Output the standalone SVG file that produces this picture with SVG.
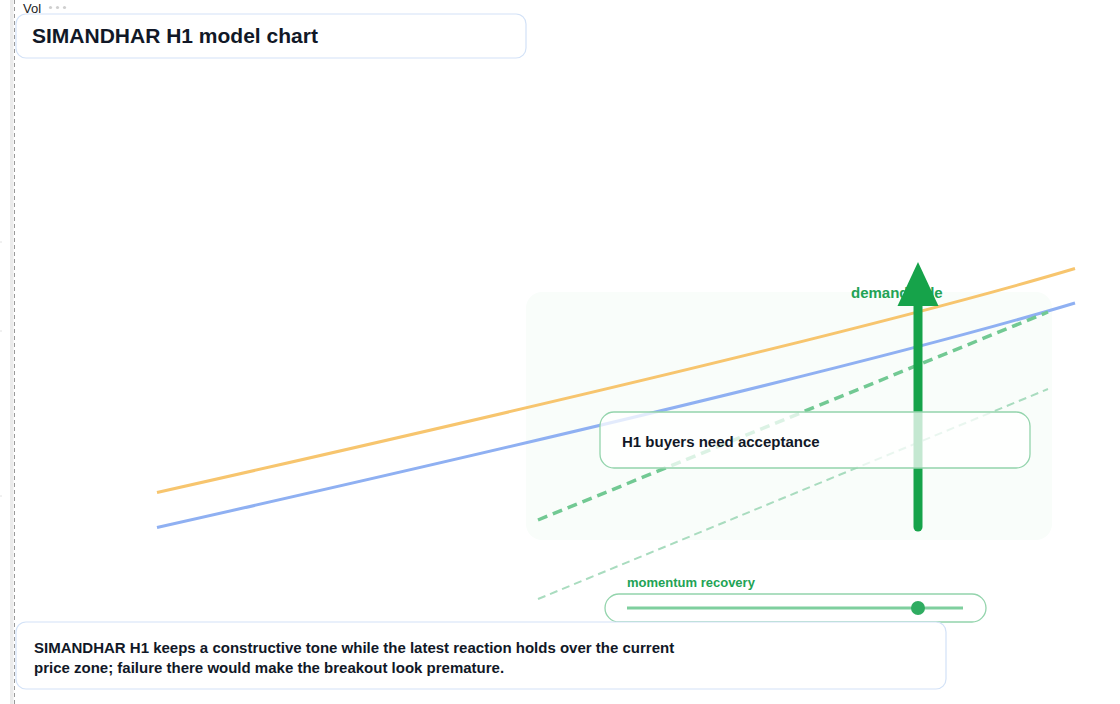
<svg xmlns="http://www.w3.org/2000/svg" width="1120" height="704" viewBox="0 0 1120 704">
<style>
.t{font-family:"Liberation Sans",Arial,sans-serif}
.dark{fill:#111827;font-weight:bold}
.grn{fill:#22a355;font-weight:bold}
</style>
<rect width="1120" height="704" fill="#ffffff"/>
<g id="axis">
<rect x="10" y="0" width="3.5" height="704" fill="#ebebeb"/>
<line x1="14.5" y1="0" x2="14.5" y2="704" stroke="#9a9a9a" stroke-width="1" stroke-dasharray="4 3"/>
<line x1="0" y1="242" x2="2" y2="242" stroke="#e2e2e2"/>
<line x1="0" y1="331" x2="2" y2="331" stroke="#e2e2e2"/>
<line x1="0" y1="496" x2="2" y2="496" stroke="#e2e2e2"/>
<text class="t" x="23" y="13" font-size="13" fill="#222">Vol</text>
<circle cx="50.5" cy="7.5" r="1.6" fill="#cfcfcf"/>
<circle cx="57.5" cy="7.5" r="1.6" fill="#cfcfcf"/>
<circle cx="64.5" cy="7.5" r="1.6" fill="#cfcfcf"/>
</g>
<g id="title">
<rect x="16" y="14" width="510" height="44" rx="10" fill="#ffffff" stroke="#d3e2f7" stroke-width="1.2"/>
<text class="t dark" x="32" y="43" font-size="21">SIMANDHAR H1 model chart</text>
</g>
<g id="zone">
<rect x="526" y="292" width="526" height="248" rx="16" fill="#f9fdfa"/>
</g>
<g id="connectors" fill="none">
<path d="M157,492.5 Q843,338 1075,268.5" stroke="#f7c56e" stroke-width="3"/>
<path d="M157,527.5 Q843,373 1075,303" stroke="#8fb0f2" stroke-width="3"/>
<line x1="538" y1="520" x2="1048" y2="312" stroke="#72c993" stroke-width="3.5" stroke-dasharray="10 6"/>
<line x1="538" y1="599" x2="1048" y2="389" stroke="#a9dcbf" stroke-width="2" stroke-dasharray="8 5"/>
</g>
<g id="demand">
<text class="t grn" x="851" y="298" font-size="15">demand side</text>
<line x1="918" y1="527" x2="918" y2="300" stroke="#16a34a" stroke-width="9" stroke-linecap="round"/>
<polygon points="918,262 938.5,306 897.5,306" fill="#16a34a"/>
</g>
<g id="acceptance">
<rect x="600" y="412" width="430" height="56" rx="14" fill="#ffffff" fill-opacity="0.75" stroke="#93d4ac" stroke-width="1.3"/>
<text class="t dark" x="622" y="447" font-size="15" fill="#1a2233">H1 buyers need acceptance</text>
</g>
<g id="momentum">
<text class="t grn" x="627" y="587" font-size="13">momentum recovery</text>
<rect x="605" y="594" width="381" height="28" rx="14" fill="#ffffff" stroke="#93d4ac" stroke-width="1.3"/>
<line x1="627" y1="608" x2="963" y2="608" stroke="#7fcf9e" stroke-width="3"/>
<circle cx="918" cy="608" r="7" fill="#2fac61"/>
</g>
<g id="summary">
<rect x="16" y="622" width="930" height="67" rx="10" fill="#ffffff" stroke="#d3e2f7" stroke-width="1.2"/>
<text class="t dark" font-size="15" fill="#1a2233"><tspan x="34" y="653">SIMANDHAR H1 keeps a constructive tone while the latest reaction holds over the current</tspan><tspan x="34" y="673">price zone; failure there would make the breakout look premature.</tspan></text>
</g>
</svg>
